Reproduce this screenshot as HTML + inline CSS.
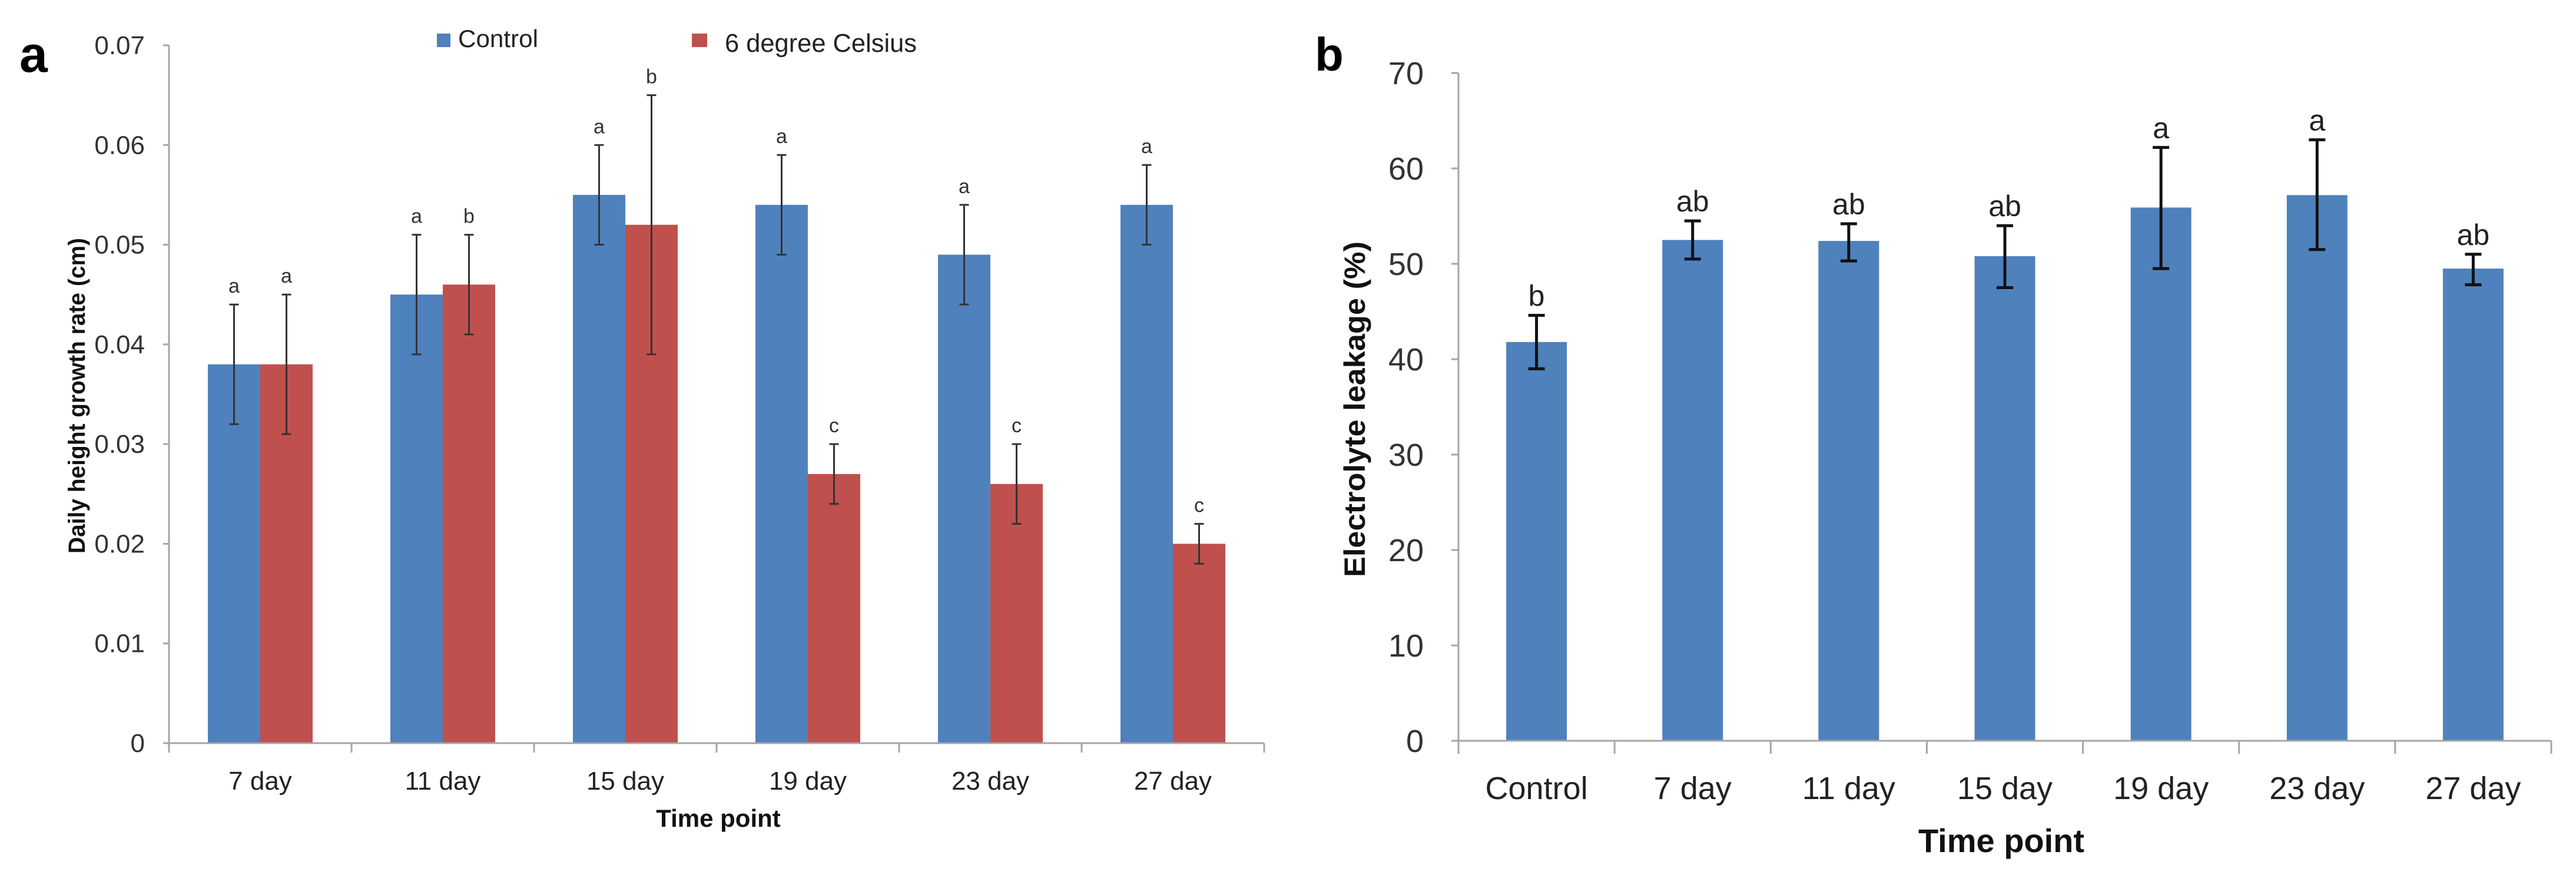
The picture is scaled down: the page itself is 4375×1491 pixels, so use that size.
<!DOCTYPE html>
<html><head><meta charset="utf-8"><style>
html,body{margin:0;padding:0;background:#fff;}
svg{display:block;}
text{font-family:"Liberation Sans",sans-serif;}
</style></head><body>
<svg id="fig" width="4375" height="1491" viewBox="0 0 4375 1491" xmlns="http://www.w3.org/2000/svg">
<rect width="4375" height="1491" fill="#fff"/>
<g id="pa"></g>
<g id="pb"></g>
</svg>
<script>
// Panel a data
const catsA = ["7 day","11 day","15 day","19 day","23 day","27 day"];
const ctrlA = [0.038,0.045,0.055,0.054,0.049,0.054];
const ctrlErrA = [0.006,0.006,0.005,0.005,0.005,0.004];
const ctrlLetA = ["a","a","a","a","a","a"];
const coldA = [0.038,0.046,0.052,0.027,0.026,0.020];
const coldErrA = [0.007,0.005,0.013,0.003,0.004,0.002];
const coldLetA = ["a","b","b","c","c","c"];
const ticksA = [0,0.01,0.02,0.03,0.04,0.05,0.06,0.07];
const tickLabA = ["0","0.01","0.02","0.03","0.04","0.05","0.06","0.07"];
// Panel b data
const catsB = ["Control","7 day","11 day","15 day","19 day","23 day","27 day"];
const valsB = [41.8,52.5,52.4,50.8,55.9,57.2,49.5];
const errHiB = [44.6,54.5,54.2,54.0,62.2,63.0,51.0];
const errLoB = [39.0,50.5,50.3,47.5,49.5,51.5,47.8];
const letB = ["b","ab","ab","ab","a","a","ab"];
const ticksB = [0,10,20,30,40,50,60,70];

const NS="http://www.w3.org/2000/svg";
function mk(parent,tag,attrs,txt){const e=document.createElementNS(NS,tag);for(const k in attrs)e.setAttribute(k,attrs[k]);if(txt!==undefined)e.textContent=txt;parent.appendChild(e);return e;}

// ---------- Panel A ----------
(function(){
const g=document.getElementById('pa');
const x0=287,x1=2147,y0=1262,yTop=77,vmax=0.07;
const cw=(x1-x0)/catsA.length, bw=89;
const ys=v=>y0-(v/vmax)*(y0-yTop);
const xc=i=>x0+cw*(i+0.5);
let t=mk(g,'text',{x:33,y:122,'font-size':86,'font-weight':'bold'},'a');


// legend
let r=mk(g,'rect',{x:742,y:57,width:23,height:23,fill:'#4f81bd'});


t=mk(g,'text',{x:778,y:80,'font-size':42,fill:'#222',textLength:136,lengthAdjust:'spacingAndGlyphs'},'Control');


r=mk(g,'rect',{x:1175,y:57,width:26,height:23,fill:'#c0504d'});


t=mk(g,'text',{x:1231,y:88,'font-size':44,fill:'#222',textLength:326,lengthAdjust:'spacingAndGlyphs'},'6 degree Celsius');


// bars
for(let i=0;i<catsA.length;i++){
  const c=xc(i);
  let b=mk(g,'rect',{x:c-bw,y:ys(ctrlA[i]),width:bw,height:y0-ys(ctrlA[i]),fill:'#4f81bd'});
  
  
  b=mk(g,'rect',{x:c,y:ys(coldA[i]),width:bw,height:y0-ys(coldA[i]),fill:'#c0504d'});
  
  
  [[c-bw/2,ctrlA[i],ctrlErrA[i],ctrlLetA[i],'control'],[c+bw/2,coldA[i],coldErrA[i],coldLetA[i],'cold']].forEach(([ex,v,e,l,s])=>{
    const eg=mk(g,'g',{stroke:'#333','stroke-width':3});
    
    
    mk(eg,'line',{x1:ex,x2:ex,y1:ys(v+e),y2:ys(v-e)});
    mk(eg,'line',{x1:ex-8,x2:ex+8,y1:ys(v+e),y2:ys(v+e)});
    mk(eg,'line',{x1:ex-8,x2:ex+8,y1:ys(v-e),y2:ys(v-e)});
    const lt=mk(g,'text',{x:ex,y:ys(v+e)-20,'font-size':34,fill:'#333','text-anchor':'middle'},l);
    
    
  });
  const xl=mk(g,'text',{x:c,y:1341,'font-size':44,fill:'#222','text-anchor':'middle'},catsA[i]);
  
  
}
// axes
const ax=mk(g,'g',{stroke:'#a6a6a6','stroke-width':3,fill:'none'});


mk(ax,'line',{x1:x0,x2:x0,y1:yTop,y2:y0});
mk(ax,'line',{x1:x0-10,x2:x1,y1:y0,y2:y0});
for(let i=0;i<=catsA.length;i++) mk(ax,'line',{x1:x0+cw*i,x2:x0+cw*i,y1:y0,y2:y0+16});
ticksA.forEach((v,i)=>{
  mk(ax,'line',{x1:x0-10,x2:x0,y1:ys(v),y2:ys(v)});
  const tl=mk(g,'text',{x:246,y:ys(v)+15,'font-size':44,fill:'#333','text-anchor':'end'},tickLabA[i]);
  
  
});
t=mk(g,'text',{x:0,y:0,'font-size':40,'font-weight':'bold',fill:'#111','text-anchor':'middle',transform:'translate(144,672) rotate(-90)',textLength:536,lengthAdjust:'spacingAndGlyphs'},'Daily height growth rate (cm)');


t=mk(g,'text',{x:1220,y:1404,'font-size':42,'font-weight':'bold',fill:'#111','text-anchor':'middle'},'Time point');


})();

// ---------- Panel B ----------
(function(){
const g=document.getElementById('pb');
const x0=2477,x1=4333,y0=1258,yTop=124,vmax=70;
const cw=(x1-x0)/catsB.length, bw=103;
const ys=v=>y0-(v/vmax)*(y0-yTop);
const xc=i=>x0+cw*(i+0.5);
let t=mk(g,'text',{x:2233,y:120,'font-size':80,'font-weight':'bold'},'b');


for(let i=0;i<catsB.length;i++){
  const c=xc(i);
  const b=mk(g,'rect',{x:c-bw/2,y:ys(valsB[i]),width:bw,height:y0-ys(valsB[i]),fill:'#4f81bd'});
  
  
  const eg=mk(g,'g',{stroke:'#111','stroke-width':5});
  
  
  mk(eg,'line',{x1:c,x2:c,y1:ys(errHiB[i]),y2:ys(errLoB[i])});
  mk(eg,'line',{x1:c-14,x2:c+14,y1:ys(errHiB[i]),y2:ys(errHiB[i])});
  mk(eg,'line',{x1:c-14,x2:c+14,y1:ys(errLoB[i]),y2:ys(errLoB[i])});
  const lt=mk(g,'text',{x:c,y:ys(errHiB[i])-16,'font-size':50,fill:'#222','text-anchor':'middle'},letB[i]);
  
  
  const xl=mk(g,'text',{x:c,y:1357,'font-size':54,fill:'#222','text-anchor':'middle'},catsB[i]);
  
  
}
const ax=mk(g,'g',{stroke:'#a6a6a6','stroke-width':3,fill:'none'});


mk(ax,'line',{x1:x0,x2:x0,y1:yTop,y2:y0});
mk(ax,'line',{x1:x0-12,x2:x1,y1:y0,y2:y0});
for(let i=0;i<=catsB.length;i++) mk(ax,'line',{x1:x0+cw*i,x2:x0+cw*i,y1:y0,y2:y0+22});
ticksB.forEach(v=>{
  mk(ax,'line',{x1:x0-12,x2:x0,y1:ys(v),y2:ys(v)});
  const tl=mk(g,'text',{x:2418,y:ys(v)+19,'font-size':54,fill:'#333','text-anchor':'end'},String(v));
  
  
});
t=mk(g,'text',{x:0,y:0,'font-size':50,'font-weight':'bold',fill:'#111','text-anchor':'middle',transform:'translate(2318,695) rotate(-90)',textLength:570,lengthAdjust:'spacingAndGlyphs'},'Electrolyte leakage (%)');


t=mk(g,'text',{x:3399,y:1447,'font-size':56,'font-weight':'bold',fill:'#111','text-anchor':'middle'},'Time point');


})();
</script>
</body></html>
